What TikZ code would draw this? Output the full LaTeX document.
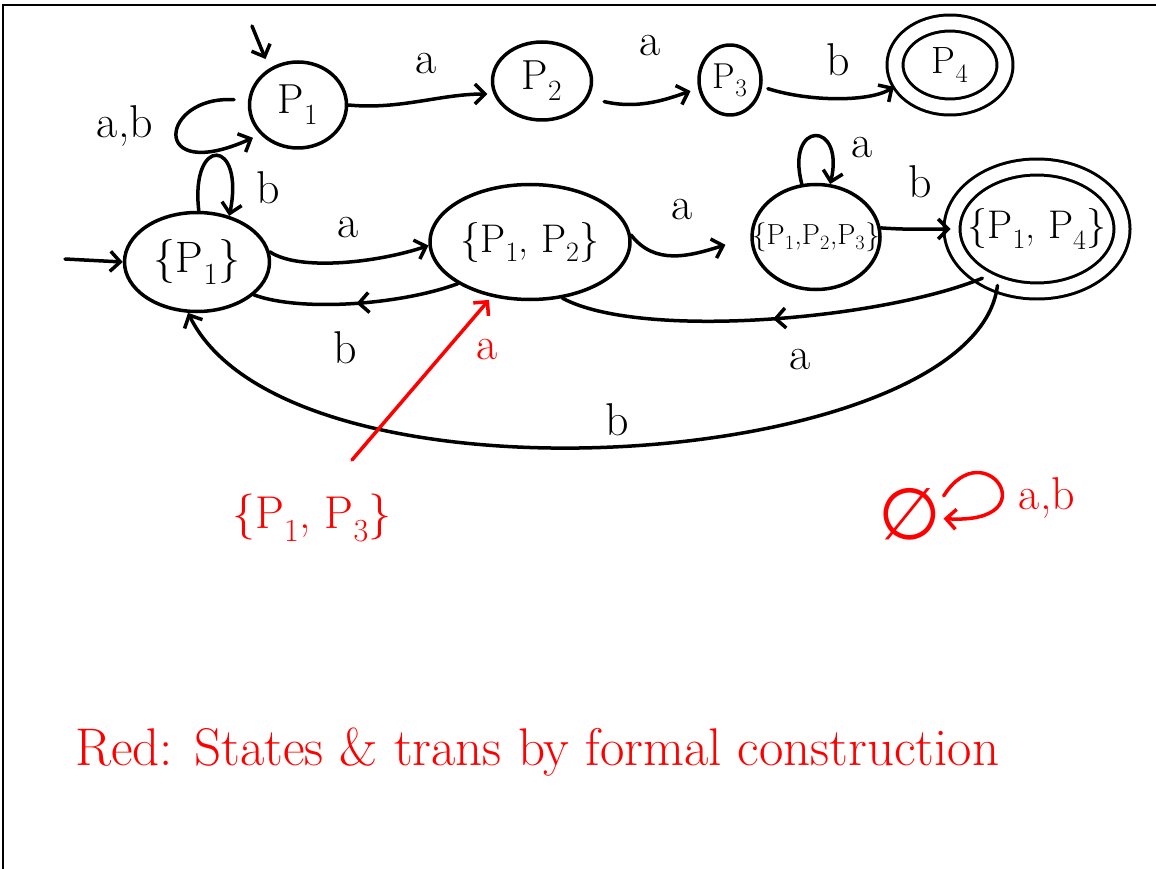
\documentclass[tikz,border=0pt]{standalone}
\usepackage{fontspec}
\newfontfamily\symfont{DejaVu Sans}
\usetikzlibrary{shapes.geometric,arrows.meta,decorations.markings}
\newcommand\pidx[1]{P\textsubscript{#1}}
\definecolor{ink}{RGB}{0,0,0}
\definecolor{redink}{RGB}{255,0,0}
\tikzset{
  ln/.style={line width=3.5pt, line cap=round, line join=round},
  st/.style={draw=ink, ellipse, ln, inner sep=0pt},
  acc/.style={st, double, double distance=13pt, line width=3pt},
  tip/.style={-{Straight Barb[length=10pt,width=20pt]}},
  midtip/.style={postaction={decorate}, decoration={markings,
      mark=at position #1 with {\arrow{Straight Barb[length=10pt,width=20pt]}}}},
  lbl/.style={font=\fontsize{46}{50}\selectfont, inner sep=0pt},
  qtxt/.style={font=\fontsize{42}{46}\selectfont},
  dtxt/.style={font=\fontsize{40}{44}\selectfont},
  rdt/.style={text=redink},
  rdl/.style={draw=redink},
}
\begin{document}
\begin{tikzpicture}[x=1pt,y=-1pt]
\useasboundingbox (0,0) rectangle (1156,869);
\fill[white] (0,0) rectangle (1156,869);
% frame (top and left)
\draw[line width=1.5pt] (3,869) -- (3,5) -- (1156,5);

% ---------- NFA ----------
\node[st, qtxt, minimum width=97pt, minimum height=86pt] (q1) at (298,105) {\pidx{1}};
\node[st, qtxt, minimum width=99pt, minimum height=78pt] (q2) at (542,81) {\pidx{2}};
\node[st, minimum width=62pt, minimum height=70pt, font=\fontsize{36}{40}\selectfont] (q3) at (730,80) {\makebox[0pt]{\pidx{3}}};
\node[acc, minimum width=110pt, minimum height=84pt, font=\fontsize{38}{42}\selectfont] (q4) at (950,65) {\makebox[0pt]{\pidx{4}}};

\coordinate (s0) at (252,26);
\draw[ln, tip, shorten >=10pt] (s0) -- (q1.128);
\draw[ln, tip, shorten <=14pt, shorten >=8pt] (q1.175) .. controls (160,95) and (148,185) .. (q1.218);
\node[lbl] (lab0) at (125,126) {a,b};

\draw[ln, tip, shorten >=6pt] (q1.east) .. controls (400,110) and (440,94) .. (q2.195);
\node[lbl] (la1) at (426,64) {a};
\draw[ln, tip, shorten <=16pt, shorten >=8pt] (q2.-20) .. controls (640,110) and (670,98) .. (q3.195);
\node[lbl] (la2) at (650,46) {a};
\draw[ln, tip, shorten <=6pt, shorten >=6pt] (q3.-12) .. controls (810,102) and (870,102) .. (q4.200);
\node[lbl] (lb1) at (838,60) {b};

% ---------- DFA ----------
\node[st, font=\fontsize{44}{48}\selectfont, minimum width=145pt, minimum height=99pt] (d1) at (197,262) {\makebox[0pt]{\{\pidx{1}\}}};
\node[st, dtxt, minimum width=200pt, minimum height=115pt] (d2) at (530,242) {\makebox[0pt]{\{\pidx{1}, \pidx{2}\}}};
\node[st, minimum width=128pt, minimum height=105pt, font=\fontsize{29}{33}\selectfont] (d3) at (816,237) {\makebox[0pt]{\{\pidx{1},\pidx{2},\pidx{3}\}}};
\node[acc, dtxt, minimum width=170pt, minimum height=124pt] (d4) at (1037,229) {\makebox[0pt]{\{\pidx{1}, \pidx{4}\}}};

\coordinate (s1) at (65,259);
\draw[ln, tip] (s1) -- (d1.west);
\draw[ln, tip] (d1.88) .. controls (190,135) and (245,138) .. (d1.55);
\node[lbl] (lb2) at (268,188) {b};

\draw[ln, tip] (d1.8) .. controls (300,272) and (380,262) .. (d2.182);
\node[lbl] (la3) at (348,228) {a};
\draw[ln, midtip=0.5] (d2.210) .. controls (400,305) and (300,312) .. (d1.-30);
\node[lbl] (lb3) at (345,348) {b};

\draw[ln, tip, shorten >=26pt] (d2.4) .. controls (655,266) and (690,256) .. (d3.west);
\node[lbl] (la4) at (682,210) {a};
\draw[ln, tip] (d3.105) .. controls (785,120) and (845,120) .. (d3.75);
\node[lbl] (la5) at (862,148) {a};
\draw[ln, tip] (d3.8) .. controls (910,230) and (930,229) .. (d4.west);
\node[lbl] (lb4) at (920,182) {b};

\draw[ln, midtip=0.5] (d4.222) .. controls (880,320) and (640,340) .. (d2.-60);
\node[lbl] (la6) at (800,360) {a};
\draw[ln, tip] (d4.-125) .. controls (975,470) and (290,520) .. (d1.-100);
\node[lbl] (lb5) at (617,420) {b};

% ---------- red ----------
\node[rdt, font=\fontsize{46}{50}\selectfont, inner sep=0pt] (r1) at (312,518) {\{\pidx{1}, \pidx{3}\}};
\coordinate (rs) at (352,460);
\draw[rdl, ln, tip, shorten >=4pt] (rs) -- (d2.235);
\node[rdt, lbl] (la7) at (487,350) {a};

\node[rdt, font=\symfont\fontsize{72}{76}\selectfont, inner sep=0pt] (e) at (910,514) {∅};
\draw[rdl, ln, tip, shorten <=4pt, shorten >=2pt] (e.25) .. controls (985,430) and (1050,525) .. (e.-8);
\node[rdt, lbl] (lab1) at (1047,498) {a,b};

\node[rdt, anchor=west, inner sep=0pt, font=\fontsize{53}{57}\selectfont] (note) at (75,752)
  {Red: States \& trans by formal construction};
\end{tikzpicture}
\end{document}
